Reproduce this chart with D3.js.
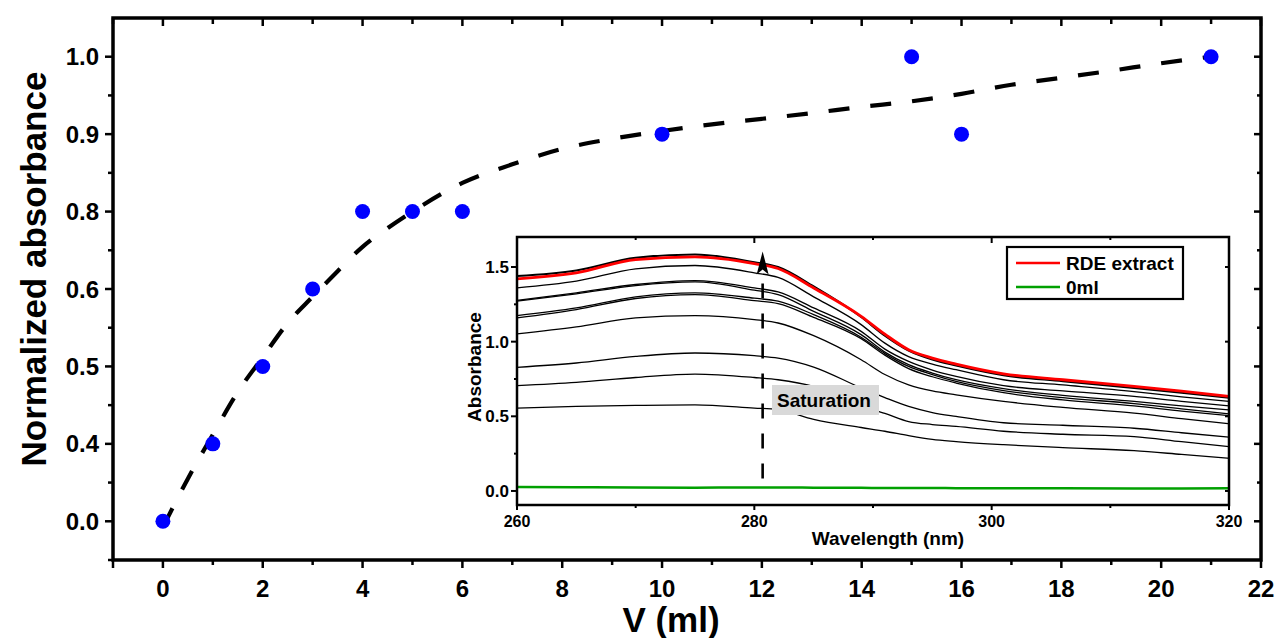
<!DOCTYPE html>
<html>
<head>
<meta charset="utf-8">
<script src="https://cdn.jsdelivr.net/npm/d3@7"></script>
<style>
body{margin:0;background:#fff;}
text{font-family:"Liberation Sans",Arial,sans-serif;font-weight:bold;fill:#000;}
</style>
</head>
<body>
<svg id="chart" width="1277" height="638"></svg>
<script>
// main plot: normalized absorbance vs added volume
var vol = [0,1,2,3,4,5,6,10,15,16,21];
var normAbs = [0.0,0.4,0.5,0.6,0.8,0.8,0.8,0.9,1.0,0.9,1.0];
var yTickVals = [0.0,0.4,0.5,0.6,0.8,0.9,1.0];
var xTickVals = [0,2,4,6,8,10,12,14,16,18,20,22];

// dashed fit curve
var fitV = [0,0.5,1,1.5,2,2.5,3,3.5,4,4.5,5,6,7,8,9,10,11,12,13,14,15,16,17,18,19,20,21];
var fitY = [-0.03,0.22,0.412,0.467,0.512,0.556,0.59,0.646,0.709,0.757,0.80,0.837,0.861,0.881,0.894,0.904,0.9127,0.9198,0.9272,0.9353,0.9424,0.9521,0.9638,0.9728,0.9819,0.9916,1.0];

// inset: UV spectra
var wl = [260,265,270,275,280,282,285,289,291,293,295,297,301,306,312,316,320];
var absRDE = [1.421,1.461,1.55,1.568,1.523,1.49,1.36,1.17,1.05,0.946,0.89,0.85,0.785,0.745,0.70,0.668,0.633];
var abs0ml = [0.027,0.025,0.023,0.022,0.024,0.024,0.022,0.021,0.02,0.02,0.02,0.019,0.018,0.018,0.017,0.017,0.018];
var absSeries = [
  [1.439,1.477,1.562,1.584,1.532,1.50,1.37,1.165,1.04,0.94,0.88,0.84,0.775,0.735,0.69,0.658,0.625],
  [1.360,1.405,1.488,1.510,1.461,1.43,1.30,1.114,0.99,0.90,0.85,0.812,0.745,0.71,0.666,0.63,0.60],
  [1.277,1.327,1.383,1.409,1.360,1.333,1.226,1.069,0.95,0.868,0.81,0.767,0.705,0.67,0.633,0.60,0.57],
  [1.271,1.320,1.376,1.400,1.345,1.315,1.203,1.047,0.93,0.846,0.79,0.745,0.685,0.64,0.60,0.57,0.543],
  [1.175,1.226,1.300,1.327,1.291,1.271,1.181,1.03,0.92,0.834,0.78,0.734,0.672,0.625,0.585,0.55,0.517],
  [1.159,1.215,1.289,1.315,1.275,1.255,1.163,1.02,0.91,0.82,0.765,0.723,0.658,0.61,0.57,0.535,0.505],
  [1.052,1.099,1.159,1.175,1.148,1.125,1.04,0.879,0.78,0.711,0.67,0.644,0.60,0.56,0.521,0.485,0.45],
  [0.828,0.857,0.901,0.924,0.906,0.89,0.83,0.69,0.625,0.566,0.525,0.499,0.457,0.44,0.42,0.39,0.36],
  [0.705,0.727,0.760,0.783,0.760,0.745,0.70,0.57,0.52,0.465,0.445,0.432,0.40,0.38,0.364,0.33,0.297],
  [0.555,0.566,0.573,0.577,0.555,0.545,0.48,0.425,0.40,0.37,0.345,0.331,0.31,0.29,0.27,0.245,0.219]
];
var insetXTicks = [260,280,300,320];
var insetYTicks = [0.0,0.5,1.0,1.5];
var legendNames = ["RDE extract","0ml"];
var legendColors = ["#ff0000","#00a000"];
// saturation arrow (wavelength, bottom, dash top, tip)
var arrowWl = 280.7, arrowLow = 0.02, arrowBase = 1.39, arrowTip = 1.604;

var svg = d3.select("#chart");

// ---------- main plot ----------
var L = 113, R = 1261, T = 18, B = 560;

var x = d3.scaleLinear().domain([-1,22]).range([L,R]);
// y axis labels are evenly spaced, so values go through an index scale first
var yIdx = d3.scaleLinear().domain(yTickVals).range(d3.range(yTickVals.length));
var yPix = d3.scaleLinear().domain([-0.5, yTickVals.length-0.5]).range([B,T]);
function y(v){ return yPix(yIdx(v)); }

var g = svg.append("g");

var allX = d3.range(-1,23);
// bottom ticks (outward)
g.selectAll(".bt").data(allX).enter().append("line")
  .attr("x1",d=>x(d)).attr("x2",d=>x(d))
  .attr("y1",B).attr("y2",d=>B+(d%2==0||d==-1?8:5))
  .attr("stroke","#000").attr("stroke-width",2.5);
// top ticks (inward)
g.selectAll(".tt").data(allX).enter().append("line")
  .attr("x1",d=>x(d)).attr("x2",d=>x(d))
  .attr("y1",T).attr("y2",d=>T+(d%2==0?8:6))
  .attr("stroke","#000").attr("stroke-width",2.5);

var idxMajor = d3.range(yTickVals.length);
var idxMinor = d3.range(yTickVals.length-1).map(d=>d+0.5);
g.selectAll(".lt").data(idxMajor).enter().append("line")
  .attr("x1",L).attr("x2",L-8).attr("y1",d=>yPix(d)).attr("y2",d=>yPix(d))
  .attr("stroke","#000").attr("stroke-width",2.5);
g.selectAll(".lm").data(idxMinor.concat([-0.5])).enter().append("line")
  .attr("x1",L).attr("x2",L-5).attr("y1",d=>yPix(d)).attr("y2",d=>yPix(d))
  .attr("stroke","#000").attr("stroke-width",2.5);
g.selectAll(".rt").data(idxMajor).enter().append("line")
  .attr("x1",R).attr("x2",R-7).attr("y1",d=>yPix(d)).attr("y2",d=>yPix(d))
  .attr("stroke","#000").attr("stroke-width",2.5);
g.selectAll(".rm").data(idxMinor).enter().append("line")
  .attr("x1",R).attr("x2",R-4).attr("y1",d=>yPix(d)).attr("y2",d=>yPix(d))
  .attr("stroke","#000").attr("stroke-width",2.5);

g.append("rect").attr("x",L).attr("y",T).attr("width",R-L).attr("height",B-T)
  .attr("fill","none").attr("stroke","#000").attr("stroke-width",3.5);

// tick labels
g.selectAll(".xl").data(xTickVals).enter().append("text")
  .attr("x",d=>x(d)).attr("y",597).attr("text-anchor","middle")
  .attr("font-size","24px").text(d=>d);
g.selectAll(".yl").data(yTickVals).enter().append("text")
  .attr("x",99).attr("y",d=>y(d)).attr("dy","0.36em").attr("text-anchor","end")
  .attr("font-size","24px").text(d=>d3.format(".1f")(d));

// axis titles
g.append("text").attr("x",671).attr("y",632).attr("text-anchor","middle")
  .attr("font-size","35px").text("V (ml)");
g.append("text").attr("transform","translate(46,269) rotate(-90)")
  .attr("text-anchor","middle").attr("font-size","35px").text("Normalized absorbance");

// dashed fit
var fitPts = fitV.map((v,i)=>[v,fitY[i]]);
g.append("path").datum(fitPts)
  .attr("d", d3.line().x(d=>x(d[0])).y(d=>y(d[1])).curve(d3.curveMonotoneX))
  .attr("fill","none").attr("stroke","#000").attr("stroke-width",4.2)
  .attr("stroke-dasharray","21,21");

// data points
g.selectAll(".pt").data(vol).enter().append("circle")
  .attr("cx",d=>x(d)).attr("cy",(d,i)=>y(normAbs[i])).attr("r",7.5)
  .attr("fill","#0000ff");

// ---------- inset ----------
var IL = 517, IR = 1229, IT = 237, IB = 505;
var xi = d3.scaleLinear().domain([260,320]).range([IL,IR]);
var yi = d3.scaleLinear().domain([-0.094,1.701]).range([IB,IT]);
var ins = svg.append("g");

ins.append("rect").attr("x",IL).attr("y",IT).attr("width",IR-IL).attr("height",IB-IT)
  .attr("fill","#fff");

var ixMinor = [270,290,310];
ins.selectAll(".ixt").data(insetXTicks).enter().append("line")
  .attr("x1",d=>xi(d)).attr("x2",d=>xi(d)).attr("y1",IB).attr("y2",IB+5)
  .attr("stroke","#000").attr("stroke-width",2);
ins.selectAll(".ixm").data(ixMinor).enter().append("line")
  .attr("x1",d=>xi(d)).attr("x2",d=>xi(d)).attr("y1",IB).attr("y2",IB+3)
  .attr("stroke","#000").attr("stroke-width",2);
ins.selectAll(".ixtt").data(insetXTicks).enter().append("line")
  .attr("x1",d=>xi(d)).attr("x2",d=>xi(d)).attr("y1",IT).attr("y2",IT+6)
  .attr("stroke","#000").attr("stroke-width",2);
ins.selectAll(".ixtm").data(ixMinor).enter().append("line")
  .attr("x1",d=>xi(d)).attr("x2",d=>xi(d)).attr("y1",IT).attr("y2",IT+3)
  .attr("stroke","#000").attr("stroke-width",2);
var iyMinor = [0.25,0.75,1.25];
ins.selectAll(".iyt").data(insetYTicks).enter().append("line")
  .attr("x1",IL).attr("x2",IL-6).attr("y1",d=>yi(d)).attr("y2",d=>yi(d))
  .attr("stroke","#000").attr("stroke-width",2);
ins.selectAll(".iym").data(iyMinor).enter().append("line")
  .attr("x1",IL).attr("x2",IL-3).attr("y1",d=>yi(d)).attr("y2",d=>yi(d))
  .attr("stroke","#000").attr("stroke-width",2);
ins.selectAll(".iyr").data(insetYTicks).enter().append("line")
  .attr("x1",IR).attr("x2",IR-4).attr("y1",d=>yi(d)).attr("y2",d=>yi(d))
  .attr("stroke","#000").attr("stroke-width",2);

var iline = d3.line().x((d,i)=>xi(wl[i])).y(d=>yi(d)).curve(d3.curveMonotoneX);

// black spectra
ins.selectAll(".spec").data(absSeries).enter().append("path")
  .attr("d",d=>iline(d)).attr("fill","none").attr("stroke","#000")
  .attr("stroke-width",(d,i)=>i==0?2:1.3);
ins.append("path").attr("d",iline(absRDE)).attr("fill","none")
  .attr("stroke","#ff0000").attr("stroke-width",2.8);
ins.append("path").attr("d",iline(abs0ml)).attr("fill","none")
  .attr("stroke","#00a000").attr("stroke-width",2.5);

// saturation arrow
var ax = xi(arrowWl);
ins.append("line").attr("x1",ax).attr("x2",ax)
  .attr("y1",yi(arrowBase)).attr("y2",yi(arrowLow))
  .attr("stroke","#000").attr("stroke-width",2.6).attr("stroke-dasharray","15,15");
var tip = yi(arrowTip);
ins.append("path")
  .attr("d","M"+ax+","+tip+"L"+(ax+6)+","+(tip+23)+"L"+ax+","+(tip+18)+"L"+(ax-6)+","+(tip+23)+"Z")
  .attr("fill","#000");

// saturation label
ins.append("rect").attr("x",772).attr("y",385).attr("width",107).attr("height",30)
  .attr("fill","#d9d9d9");
ins.append("text").attr("x",777).attr("y",407).attr("font-size","19px").text("Saturation");

ins.append("rect").attr("x",IL).attr("y",IT).attr("width",IR-IL).attr("height",IB-IT)
  .attr("fill","none").attr("stroke","#000").attr("stroke-width",2.5);

// inset labels
ins.selectAll(".ixl").data(insetXTicks).enter().append("text")
  .attr("x",d=>xi(d)).attr("y",527).attr("text-anchor","middle")
  .attr("font-size","16px").text(d=>d);
ins.selectAll(".iyl").data(insetYTicks).enter().append("text")
  .attr("x",509).attr("y",d=>yi(d)).attr("dy","0.36em").attr("text-anchor","end")
  .attr("font-size","17px").text(d=>d3.format(".1f")(d));
ins.append("text").attr("x",888).attr("y",545).attr("text-anchor","middle")
  .attr("font-size","19px").text("Wavelength (nm)");
ins.append("text").attr("transform","translate(481,367) rotate(-90)")
  .attr("text-anchor","middle").attr("font-size","19px").text("Absorbance");

// legend
var lg = ins.append("g");
lg.append("rect").attr("x",1007).attr("y",247).attr("width",176).attr("height",52)
  .attr("fill","#fff").attr("stroke","#000").attr("stroke-width",2.2);
lg.selectAll(".li").data(legendNames).enter().append("line")
  .attr("x1",1016).attr("x2",1060)
  .attr("y1",(d,i)=>263+i*24).attr("y2",(d,i)=>263+i*24)
  .attr("stroke",(d,i)=>legendColors[i]).attr("stroke-width",2.6);
lg.selectAll(".lt").data(legendNames).enter().append("text")
  .attr("x",1066).attr("y",(d,i)=>269.5+i*24)
  .attr("font-size","19px").text(d=>d);
</script>
</body>
</html>
